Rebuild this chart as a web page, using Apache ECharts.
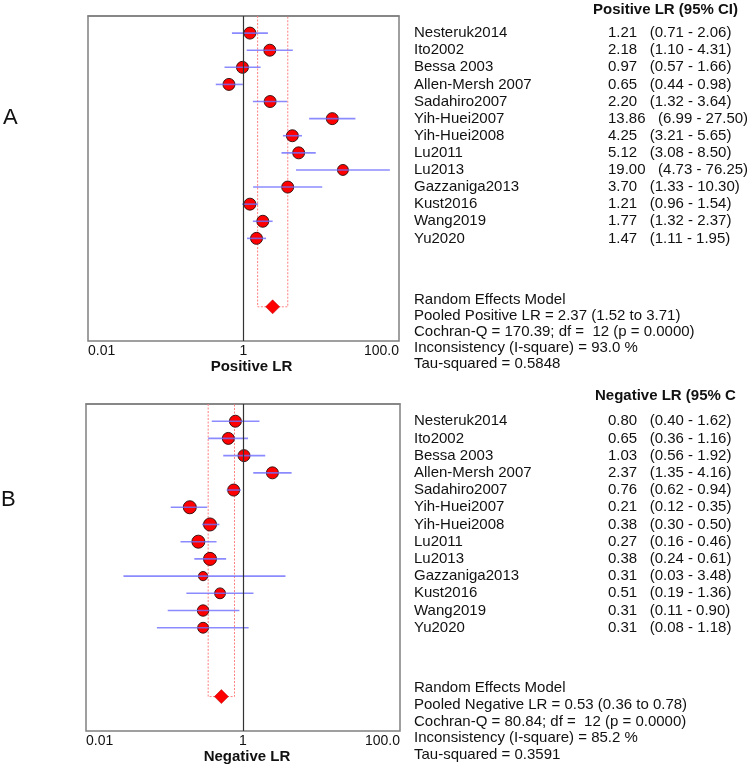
<!DOCTYPE html>
<html><head><meta charset="utf-8">
<script src="https://cdn.jsdelivr.net/npm/echarts@6/dist/echarts.min.js"></script>
<style>html,body{margin:0;padding:0;background:#fff}#c{width:750px;height:768px}</style>
</head><body><div id="c"></div>
<script>
// ---------- data ----------
const studies = ['Nesteruk2014','Ito2002','Bessa 2003','Allen-Mersh 2007','Sadahiro2007','Yih-Huei2007','Yih-Huei2008','Lu2011','Lu2013','Gazzaniga2013','Kust2016','Wang2019','Yu2020'];
const posLR = [1.21,2.18,0.97,0.65,2.20,13.86,4.25,5.12,19.00,3.70,1.21,1.77,1.47];
const posLo = [0.71,1.10,0.57,0.44,1.32,6.99,3.21,3.08,4.73,1.33,0.96,1.32,1.11];
const posHi = [2.06,4.31,1.66,0.98,3.64,27.50,5.65,8.50,76.25,10.30,1.54,2.37,1.95];
const posWeight = [7.6,7.6,7.6,7.6,7.6,7.6,7.6,7.6,6.3,7.6,7.6,7.6,7.6];
const posPooled = [2.37,1.52,3.71];
const posStats = ['Random Effects Model','Pooled Positive LR = 2.37 (1.52 to 3.71)','Cochran-Q = 170.39; df =  12 (p = 0.0000)','Inconsistency (I-square) = 93.0 %','Tau-squared = 0.5848'];

const negLR = [0.80,0.65,1.03,2.37,0.76,0.21,0.38,0.27,0.38,0.31,0.51,0.31,0.31];
const negLo = [0.40,0.36,0.56,1.35,0.62,0.12,0.30,0.16,0.24,0.03,0.19,0.11,0.08];
const negHi = [1.62,1.16,1.92,4.16,0.94,0.35,0.50,0.46,0.61,3.48,1.36,0.90,1.18];
const negWeight = [7.6,7.6,7.6,7.6,7.6,9.0,9.0,9.0,9.0,4.5,6.25,6.9,6.25];
const negPooled = [0.53,0.36,0.78];
const negStats = ['Random Effects Model','Pooled Negative LR = 0.53 (0.36 to 0.78)','Cochran-Q = 80.84; df =  12 (p = 0.0000)','Inconsistency (I-square) = 85.2 %','Tau-squared = 0.3591'];

const tickLabels = {'-2':'0.01','0':'1','2':'100.0'};
// ---------- layout / style ----------
const FONT = '"Liberation Sans", Arial, Helvetica, sans-serif';
const POOLED_ROW = 17;
const NAME_X = 414, VAL_X = 608;

function xAxis(gi, name, pad){
  return {
    type:'log', logBase:10, min:0.01, max:100, gridIndex:gi,
    axisLine:{show:true, lineStyle:{color:'#808080', width:1.5}},
    axisTick:{show:false}, splitLine:{show:false}, minorTick:{show:false},
    axisLabel:{color:'#111', fontSize:14, fontFamily:FONT, margin:3,
      showMinLabel:true, showMaxLabel:true, alignMinLabel:'left', alignMaxLabel:'right',
      formatter: v => tickLabels[String(Math.round(Math.log10(v)))] || ''},
    name, nameLocation:'middle', nameGap:18,
    nameTextStyle:{fontSize:15, fontWeight:'bold', color:'#111', fontFamily:FONT, padding:[0,0,0,pad]}
  };
}
function yAxis(gi){
  return {type:'value', gridIndex:gi, min:0, max:19, inverse:true, show:false};
}

function panelSeries(gi, est, lo, hi, w, pooled){
  const rows = est.map((v,i)=>i+1);
  return [
    { // study points
      type:'scatter', xAxisIndex:gi, yAxisIndex:gi, z:3,
      data: est.map((v,i)=>[v, rows[i]]),
      symbol:'circle',
      symbolSize:(val, p)=>4.35*Math.sqrt(w[p.dataIndex]),
      itemStyle:{color:'#ff0000', borderColor:'#2a0a0a', borderWidth:0.9, opacity:1},
      silent:true,
      markLine:{silent:true, symbol:['none','none'], label:{show:false},
        lineStyle:{color:'#333', width:1.2, type:'solid'}, data:[{xAxis:1}], animation:false}
    },
    { // CI bars
      type:'custom', xAxisIndex:gi, yAxisIndex:gi, z:4, silent:true,
      data: est.map((v,i)=>[lo[i], hi[i], rows[i]]),
      encode:{x:[0,1], y:2},
      renderItem:(params, api)=>{
        const a = api.coord([api.value(0), api.value(2)]);
        const b = api.coord([api.value(1), api.value(2)]);
        return {type:'line', shape:{x1:a[0], y1:a[1], x2:b[0], y2:b[1]},
          style:{stroke:'rgba(110,110,255,0.8)', lineWidth:1.6}};
      }
    },
    { // pooled CI outline
      type:'custom', xAxisIndex:gi, yAxisIndex:gi, z:2, silent:true,
      data:[[pooled[1], pooled[2], POOLED_ROW]],
      encode:{x:[0,1], y:2},
      renderItem:(params, api)=>{
        const r = api.value(2);
        const p1 = api.coord([api.value(0), 0]);
        const p2 = api.coord([api.value(0), r]);
        const p3 = api.coord([api.value(1), r]);
        const p4 = api.coord([api.value(1), 0]);
        return {type:'polyline', shape:{points:[p1,p2,p3,p4]},
          style:{stroke:'#ff8080', lineWidth:1, lineDash:[2,1.5], fill:null}};
      }
    },
    { // pooled diamond
      type:'scatter', xAxisIndex:gi, yAxisIndex:gi, z:5, silent:true,
      data:[[pooled[0], POOLED_ROW]], symbol:'diamond', symbolSize:[14,14],
      itemStyle:{color:'#ff0000', borderColor:'#b00000', borderWidth:0.5, opacity:1}
    },
    { // table text
      type:'custom', xAxisIndex:gi, yAxisIndex:gi, z:5, silent:true,
      data: est.map((v,i)=>[1, rows[i], i]),
      encode:{x:0, y:1},
      renderItem:(params, api)=>{
        const i = api.value(2);
        const y = api.coord([1, api.value(1)])[1];
        const base = {fontSize:15, fontFamily:FONT, fill:'#111', verticalAlign:'middle', align:'left'};
        return {type:'group', children:[
          {type:'text', x:NAME_X, y, style:Object.assign({text:studies[i]}, base)},
          {type:'text', x:VAL_X, y, style:Object.assign({text:est[i].toFixed(2)+'   ('+lo[i].toFixed(2)+' - '+hi[i].toFixed(2)+')'}, base)}
        ]};
      }
    }
  ];
}

function statsGraphics(lines, y0, step){
  return lines.map((t,k)=>({type:'text', x:NAME_X, y:y0+k*step, silent:true,
    style:{text:t, fontSize:15, fontFamily:FONT, fill:'#111', verticalAlign:'middle', align:'left'}}));
}

const chart = echarts.init(document.getElementById('c'), null, {renderer:'canvas'});
chart.setOption({
  animation:false,
  backgroundColor:'#ffffff',
  grid:[
    {left:88, top:16, width:311, height:325, show:true, borderColor:'#808080', borderWidth:1.5, backgroundColor:'transparent'},
    {left:86, top:404, width:314, height:327, show:true, borderColor:'#808080', borderWidth:1.5, backgroundColor:'transparent'}
  ],
  xAxis:[xAxis(0,'Positive LR',16), xAxis(1,'Negative LR',8)],
  yAxis:[yAxis(0), yAxis(1)],
  series:[...panelSeries(0,posLR,posLo,posHi,posWeight,posPooled), ...panelSeries(1,negLR,negLo,negHi,negWeight,negPooled)],
  graphic:[
    {type:'text', x:3, y:118, silent:true, style:{text:'A', fontSize:22, fontFamily:FONT, fill:'#111', verticalAlign:'middle'}},
    {type:'text', x:1, y:500, silent:true, style:{text:'B', fontSize:22, fontFamily:FONT, fill:'#111', verticalAlign:'middle'}},
    {type:'text', x:593, y:10, silent:true, style:{text:'Positive LR (95% CI)', fontSize:15, fontWeight:'bold', fontFamily:FONT, fill:'#111', verticalAlign:'middle'}},
    {type:'text', x:595, y:396, silent:true, style:{text:'Negative LR (95% C', fontSize:15, fontWeight:'bold', fontFamily:FONT, fill:'#111', verticalAlign:'middle'}},
    ...statsGraphics(posStats, 300, 16),
    ...statsGraphics(negStats, 688, 16.75)
  ]
});
</script></body></html>
